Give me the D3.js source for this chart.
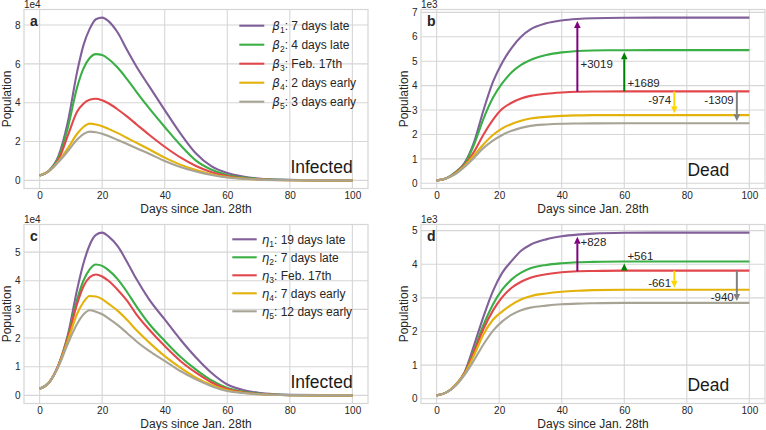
<!DOCTYPE html>
<html>
<head>
<meta charset="utf-8">
<script src="https://cdn.jsdelivr.net/npm/d3@7"></script>
<style>
  body { margin: 0; background: #fff; }
  text { font-family: "Liberation Sans", Arial, sans-serif; }
</style>
</head>
<body>
<svg id="chart" width="766" height="430"></svg>
<script>
const infDays  = [0,3,6,9,12,14,16,18,20,22,25,28,31,35,40,45,50,55,60,65,70,80,90,100];
const deadDays = [0,3,6,9,12,15,18,21,24,27,30,35,40,45,50,60,70,80,90,100];
const xTicks = [0, 20, 40, 60, 80, 100];

// panel a: infected, beta scenarios (x1e4)
const infBeta1 = [0.25,0.5,1.25,3.0,5.6,6.95,7.8,8.3,8.38,8.2,7.6,6.7,5.85,4.85,3.62,2.42,1.38,0.72,0.38,0.2,0.1,0.03,0.01,0];
const infBeta2 = [0.25,0.5,1.15,2.7,4.8,5.75,6.3,6.5,6.45,6.25,5.8,5.2,4.55,3.72,2.75,1.82,1.02,0.55,0.28,0.14,0.07,0.02,0,0];
const infBeta3 = [0.25,0.49,1.05,2.3,3.55,3.95,4.15,4.2,4.12,3.97,3.65,3.28,2.88,2.35,1.73,1.18,0.74,0.42,0.22,0.11,0.06,0.01,0,0];
const infBeta4 = [0.25,0.48,0.98,1.65,2.4,2.75,2.92,2.88,2.79,2.65,2.43,2.18,1.93,1.6,1.17,0.81,0.53,0.31,0.17,0.09,0.045,0.01,0,0];
const infBeta5 = [0.25,0.47,0.94,1.5,2.1,2.38,2.51,2.48,2.4,2.28,2.08,1.87,1.65,1.37,1.0,0.69,0.46,0.28,0.15,0.08,0.04,0.01,0,0];

// panel b: dead, beta scenarios (x1e3)
const deadBeta1 = [0.12,0.2,0.45,0.85,1.7,3.0,4.15,4.95,5.55,6.0,6.3,6.55,6.67,6.73,6.76,6.78,6.784,6.784,6.784,6.784];
const deadBeta2 = [0.12,0.2,0.45,0.8,1.6,2.65,3.5,4.1,4.55,4.85,5.05,5.25,5.36,5.42,5.44,5.45,5.454,5.454,5.454,5.454];
const deadBeta3 = [0.12,0.2,0.42,0.75,1.3,2.0,2.6,3.05,3.3,3.47,3.58,3.67,3.72,3.75,3.76,3.765,3.765,3.765,3.765,3.765];
const deadBeta4 = [0.12,0.2,0.4,0.72,1.15,1.6,1.98,2.25,2.43,2.56,2.65,2.72,2.76,2.78,2.79,2.79,2.791,2.791,2.791,2.791];
const deadBeta5 = [0.12,0.2,0.38,0.68,1.05,1.45,1.75,1.98,2.15,2.27,2.35,2.41,2.44,2.45,2.455,2.456,2.456,2.456,2.456,2.456];

// panel c: infected, eta scenarios (x1e4)
const infEta1 = [0.23,0.45,1.05,2.1,3.7,4.6,5.25,5.6,5.68,5.55,5.2,4.65,4.05,3.35,2.65,1.95,1.32,0.78,0.38,0.19,0.09,0.02,0.01,0];
const infEta2 = [0.23,0.45,1.05,2.05,3.35,4.0,4.4,4.57,4.52,4.37,4.05,3.6,3.1,2.5,1.9,1.35,0.9,0.52,0.26,0.13,0.06,0.01,0,0];
const infEta3 = [0.23,0.45,1.05,2.0,3.2,3.8,4.12,4.22,4.15,4.0,3.68,3.3,2.82,2.3,1.72,1.2,0.79,0.45,0.22,0.11,0.05,0.01,0,0];
const infEta4 = [0.23,0.45,1.02,1.9,2.85,3.25,3.47,3.45,3.36,3.2,2.95,2.63,2.27,1.85,1.37,0.97,0.62,0.36,0.18,0.09,0.04,0.01,0,0];
const infEta5 = [0.23,0.45,1.0,1.8,2.5,2.82,2.97,2.92,2.83,2.69,2.45,2.17,1.88,1.55,1.2,0.85,0.56,0.32,0.15,0.08,0.04,0.01,0,0];

// panel d: dead, eta scenarios (x1e3)
const deadEta1 = [0.1,0.18,0.4,0.8,1.6,2.45,3.2,3.75,4.1,4.4,4.58,4.74,4.83,4.88,4.91,4.935,4.94,4.94,4.94,4.94];
const deadEta2 = [0.1,0.18,0.4,0.78,1.45,2.2,2.8,3.25,3.55,3.75,3.88,3.98,4.03,4.06,4.07,4.08,4.08,4.08,4.08,4.08];
const deadEta3 = [0.1,0.18,0.4,0.77,1.4,2.08,2.62,3.02,3.3,3.48,3.6,3.7,3.76,3.79,3.8,3.81,3.81,3.81,3.81,3.81];
const deadEta4 = [0.1,0.18,0.4,0.75,1.3,1.92,2.35,2.6,2.8,2.95,3.05,3.13,3.18,3.21,3.23,3.24,3.24,3.24,3.24,3.24];
const deadEta5 = [0.1,0.18,0.38,0.72,1.15,1.62,2.02,2.3,2.5,2.63,2.71,2.77,2.81,2.83,2.84,2.85,2.85,2.85,2.85,2.85];

// legend labels
const betaLabels = ['7 days late', '4 days late', 'Feb. 17th', '2 days early', '3 days early'];
const etaLabels  = ['19 days late', '7 days late', 'Feb. 17th', '7 days early', '12 days early'];

// change annotations: day of arrow, target series, label, label anchor [day, value]
const noteDays = [45, 60, 76, 96];
const noteTargets = [0, 1, 3, 4];
const betaNotes = ['+3019', '+1689', '-974', '-1309'];
const betaNoteAt = [[46, 4.9], [61, 4.1], [75, 3.4], [95, 3.4]];
const etaNotes = ['+828', '+561', '-661', '-940'];
const etaNoteAt = [[46, 4.67], [61, 4.25], [75, 3.46], [95, 3.03]];

const colors = ['#81609a', '#3aaf45', '#e2474b', '#e3b20b', '#a8a495'];
const arrowColors = ['#800080', '#008000', '#ffd700', '#808080'];
const ink = '#262626';
const gridColor = '#d6d6d6';

const svg = d3.select('#chart');

class Panel {
  constructor(_config, _data) {
    this.config = {
      left: _config.left,
      top: _config.top,
      width: 344,
      height: 179,
      days: _config.days,
      letter: _config.letter,
      title: _config.title,
      titleX: _config.titleX,
      titleY: _config.titleY,
      exponent: _config.exponent,
      yTicks: _config.yTicks,
      legend: _config.legend || null,
      notes: _config.notes || null
    };
    this.data = _data;
    this.initVis();
  }

  initVis() {
    let vis = this;
    let w = vis.config.width, h = vis.config.height;

    vis.chart = svg.append('g')
      .attr('transform', `translate(${vis.config.left},${vis.config.top})`);

    vis.xScale = d3.scaleLinear().domain([-5, 105]).range([0, w]);
    let ext = d3.extent(vis.data.flat());
    let pad = (ext[1] - ext[0]) * 0.05;
    vis.yScale = d3.scaleLinear().domain([ext[0] - pad, ext[1] + pad]).range([h, 0]);

    // grid
    vis.chart.selectAll('.vgrid').data(xTicks).join('line')
      .attr('x1', d => vis.xScale(d)).attr('x2', d => vis.xScale(d))
      .attr('y1', 0).attr('y2', h)
      .attr('stroke', gridColor).attr('stroke-width', 1.1);
    vis.chart.selectAll('.hgrid').data(vis.config.yTicks).join('line')
      .attr('x1', 0).attr('x2', w)
      .attr('y1', d => vis.yScale(d)).attr('y2', d => vis.yScale(d))
      .attr('stroke', gridColor).attr('stroke-width', 1.1);
    vis.chart.append('rect')
      .attr('width', w).attr('height', h)
      .attr('fill', 'none').attr('stroke', gridColor).attr('stroke-width', 1.2);

    // axes
    vis.xAxisG = vis.chart.append('g')
      .attr('transform', `translate(0,${h})`)
      .call(d3.axisBottom(vis.xScale).tickValues(xTicks).tickSize(0).tickPadding(3.5));
    vis.yAxisG = vis.chart.append('g')
      .call(d3.axisLeft(vis.yScale).tickValues(vis.config.yTicks)
        .tickFormat(d3.format('d')).tickSize(0).tickPadding(3.5));
    [vis.xAxisG, vis.yAxisG].forEach(g => {
      g.select('.domain').remove();
      g.attr('font-family', null).attr('font-size', 10);
      g.selectAll('text').attr('fill', ink);
    });

    vis.chart.append('text')
      .attr('x', w / 2).attr('y', h + 24)
      .attr('text-anchor', 'middle').attr('font-size', 12).attr('fill', ink)
      .text('Days since Jan. 28th');
    vis.chart.append('text')
      .attr('transform', `translate(-13.5,${h / 2}) rotate(-90)`)
      .attr('text-anchor', 'middle').attr('font-size', 12).attr('fill', ink)
      .text('Population');
    vis.chart.append('text')
      .attr('x', 0).attr('y', -2)
      .attr('font-size', 10).attr('fill', ink)
      .text(vis.config.exponent);
    vis.chart.append('text')
      .attr('x', 6).attr('y', 16.5)
      .attr('font-size', 14).attr('font-weight', 'bold').attr('fill', ink)
      .text(vis.config.letter);
    vis.chart.append('text')
      .attr('x', vis.config.titleX).attr('y', h - vis.config.titleY)
      .attr('text-anchor', 'end').attr('font-size', 17.5).attr('fill', '#1a1a1a')
      .text(vis.config.title);

    vis.renderVis();
  }

  valueAt(series, day) {
    let days = this.config.days;
    let i = d3.bisectLeft(days, day);
    if (days[i] === day) return series[i];
    let t = (day - days[i - 1]) / (days[i] - days[i - 1]);
    return series[i - 1] + t * (series[i] - series[i - 1]);
  }

  renderVis() {
    let vis = this;
    let days = vis.config.days;

    let line = d3.line()
      .x((d, i) => vis.xScale(days[i]))
      .y(d => vis.yScale(d))
      .curve(d3.curveMonotoneX);

    vis.chart.selectAll('.series').data(vis.data).join('path')
      .attr('class', 'series')
      .attr('fill', 'none')
      .attr('stroke', (d, i) => colors[i])
      .attr('stroke-width', 2.1)
      .attr('d', line);

    if (vis.config.legend) {
      let lg = vis.config.legend;
      vis.config.legend.labels.forEach((lab, i) => {
        let y = lg.y0 + i * lg.dy;
        vis.chart.append('line')
          .attr('x1', lg.x1).attr('x2', lg.x2).attr('y1', y).attr('y2', y)
          .attr('stroke', colors[i]).attr('stroke-width', 2.1);
        let t = vis.chart.append('text')
          .attr('x', lg.tx).attr('y', y).attr('dy', '0.36em')
          .attr('font-size', 12).attr('fill', ink);
        t.append('tspan').attr('font-family', 'DejaVu Sans').attr('font-style', 'italic').text(lg.symbol);
        t.append('tspan').attr('font-size', 8.5).attr('dy', 3).text(i + 1);
        t.append('tspan').attr('dy', -3).text(': ' + lab);
      });
    }

    if (vis.config.notes) {
      let nt = vis.config.notes;
      noteDays.forEach((day, i) => {
        let from = vis.valueAt(vis.data[2], day);
        let to = vis.valueAt(vis.data[noteTargets[i]], day);
        let x = vis.xScale(day);
        let y0 = vis.yScale(from);
        let dir = Math.sign(vis.yScale(to) - y0);
        let tip = vis.yScale(to) - dir * 2;
        let base = tip - dir * 7;
        vis.chart.append('line')
          .attr('x1', x).attr('x2', x).attr('y1', y0).attr('y2', base)
          .attr('stroke', arrowColors[i]).attr('stroke-width', 2);
        vis.chart.append('path')
          .attr('d', `M${x - 3.3},${base}L${x + 3.3},${base}L${x},${tip}Z`)
          .attr('fill', arrowColors[i]);
        vis.chart.append('text')
          .attr('x', vis.xScale(nt.at[i][0])).attr('y', vis.yScale(nt.at[i][1]))
          .attr('dy', '0.36em')
          .attr('text-anchor', dir < 0 ? 'start' : 'end')
          .attr('font-size', 11.5).attr('fill', ink)
          .text(nt.labels[i]);
      });
    }
  }
}

new Panel({
  left: 24, top: 9.5, days: infDays, letter: 'a', title: 'Infected', titleX: 328.7, titleY: 15.8,
  exponent: '1e4', yTicks: [0, 2, 4, 6, 8],
  legend: {labels: betaLabels, symbol: 'β', x1: 215.3, x2: 240.3, tx: 248.3, y0: 16.2, dy: 19}
}, [infBeta1, infBeta2, infBeta3, infBeta4, infBeta5]);

new Panel({
  left: 421, top: 9.5, days: deadDays, letter: 'b', title: 'Dead', titleX: 308.3, titleY: 12.8,
  exponent: '1e3', yTicks: [0, 1, 2, 3, 4, 5, 6, 7],
  notes: {labels: betaNotes, at: betaNoteAt}
}, [deadBeta1, deadBeta2, deadBeta3, deadBeta4, deadBeta5]);

new Panel({
  left: 24, top: 224.5, days: infDays, letter: 'c', title: 'Infected', titleX: 328.7, titleY: 15.8,
  exponent: '1e4', yTicks: [0, 1, 2, 3, 4, 5],
  legend: {labels: etaLabels, symbol: 'η', x1: 208.3, x2: 232.7, tx: 237.7, y0: 14.8, dy: 18}
}, [infEta1, infEta2, infEta3, infEta4, infEta5]);

new Panel({
  left: 421, top: 224.5, days: deadDays, letter: 'd', title: 'Dead', titleX: 308.3, titleY: 12.8,
  exponent: '1e3', yTicks: [0, 1, 2, 3, 4, 5],
  notes: {labels: etaNotes, at: etaNoteAt}
}, [deadEta1, deadEta2, deadEta3, deadEta4, deadEta5]);
</script>
</body>
</html>
